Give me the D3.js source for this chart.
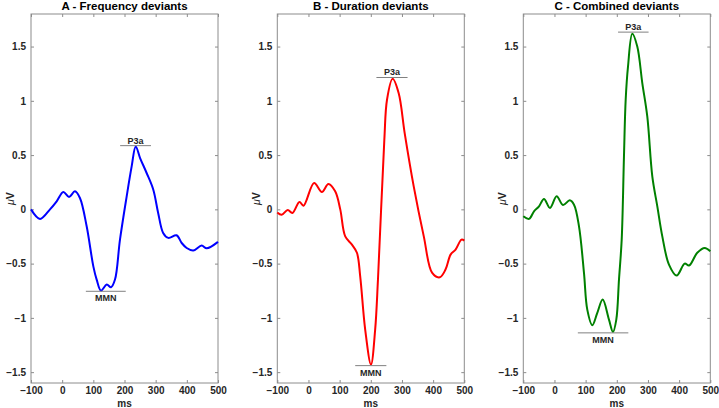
<!DOCTYPE html>
<html><head><meta charset="utf-8">
<script src="https://cdn.jsdelivr.net/npm/d3@7"></script>
<style>
body{margin:0;background:#fff;}
svg text{font-family:"Liberation Sans",Arial,sans-serif;}
</style></head>
<body><svg id="c" width="719" height="408"></svg>
<script>
const titles = ["A - Frequency deviants", "B - Duration deviants", "C - Combined deviants"];
const colors = ["#0000ff", "#ff0000", "#008000"];
const xTicks = [-100, 0, 100, 200, 300, 400, 500];
const yTicks = [-1.5, -1, -0.5, 0, 0.5, 1, 1.5];

const timesA = [-100,-71,-39,-17.6,3.7,22,41,57,78.6,100,110.7,124.6,143,156.7,169.5,185.5,207,223,236,250,271,292.4,308,324,340.5,367,383.5,399.5,420.7,447.6,463.7,500];
const valuesA = [0,-0.088,0,0.074,0.16,0.114,0.166,0.105,-0.156,-0.525,-0.647,-0.749,-0.693,-0.718,-0.647,-0.279,0.12,0.396,0.58,0.473,0.335,0.181,-0.033,-0.217,-0.263,-0.239,-0.31,-0.356,-0.38,-0.334,-0.359,-0.30];

const timesB = [-100,-86,-66.5,-51.7,-29,-16,18,43,64,85.7,102,118,139.5,155.5,166,182,200.6,214,223,243.4,252,270,289.5,308.7,337.7,370,397,421.4,439.7,456,472,491,500];
const valuesB = [-0.028,-0.049,-0.006,-0.033,0.068,0.034,0.243,0.16,0.234,0.166,0,-0.249,-0.325,-0.40,-0.617,-1.108,-1.43,-1.108,-0.647,0.64,1.01,1.203,1.07,0.703,0.212,-0.249,-0.586,-0.626,-0.555,-0.417,-0.371,-0.279,-0.288];

const timesC = [-100,-81.7,-65.7,-49.6,-33.6,-14.3,7,27.4,49,62.7,78.7,94.7,105.3,121.4,137.4,154.7,174.9,187.8,198.4,207,215.7,223,228.5,236,249.7,265.7,281.8,297.8,313.9,330,346,367.4,392.1,417.8,431.8,458.2,482,500];
const valuesC = [-0.064,-0.088,-0.018,0.028,0.096,0.013,0.12,0.04,0.083,0.043,-0.157,-0.586,-0.924,-1.068,-0.954,-0.831,-1.016,-1.129,-1.016,-0.647,-0.279,0.488,1.01,1.317,1.618,1.50,1.164,0.856,0.304,0.028,-0.249,-0.509,-0.61,-0.50,-0.518,-0.40,-0.356,-0.386];

// annotation bars: [startMs, endMs, value]
const p3aBars = [[186, 285, 0.587], [218, 318, 1.215], [204, 302, 1.633]];
const mmnBars = [[76, 204, -0.755], [150, 250, -1.44], [75, 237, -1.138]];

const series = [
  {t: timesA, v: valuesA},
  {t: timesB, v: valuesB},
  {t: timesC, v: valuesC}
];

const svg = d3.select("#c");
const lefts = [31, 277.3, 523.3];
const pw = 187, plotTop = 14, plotBottom = 383;
const frameColor = "#8c8c8c";
const textColor = "#262626";

series.forEach((s, i) => {
  const x = d3.scaleLinear().domain([-100, 500]).range([lefts[i], lefts[i] + pw]);
  const y = d3.scaleLinear().domain([-1.6, 1.8]).range([plotBottom, plotTop]);
  const g = svg.append("g");

  g.append("rect").attr("x", x(-100)).attr("y", plotTop).attr("width", pw).attr("height", plotBottom - plotTop)
    .attr("fill", "none").attr("stroke", frameColor).attr("stroke-width", 1);

  const axB = d3.axisBottom(x).tickValues(xTicks).tickSize(-3).tickPadding(4).tickFormat(d3.format("d"));
  const axT = d3.axisTop(x).tickValues(xTicks).tickSize(-3).tickFormat("");
  const axL = d3.axisLeft(y).tickValues(yTicks).tickSize(-3).tickPadding(5).tickFormat(d => d3.format("")(d));
  const axR = d3.axisRight(y).tickValues(yTicks).tickSize(-3).tickFormat("");
  [[axB, `translate(0,${plotBottom})`], [axT, `translate(0,${plotTop})`], [axL, `translate(${x(-100)},0)`], [axR, `translate(${x(500)},0)`]]
    .forEach(([ax, tr]) => {
      const a = g.append("g").attr("transform", tr).call(ax);
      a.select(".domain").remove();
      a.selectAll(".tick line").attr("stroke", frameColor);
      a.selectAll(".tick text").attr("fill", textColor).attr("font-size", 10).attr("font-weight", "bold")
        .attr("font-family", "Liberation Sans, Arial, sans-serif");
    });

  g.append("text").attr("x", lefts[i] + pw / 2).attr("y", 9.5).attr("text-anchor", "middle")
    .attr("font-size", 11.5).attr("font-weight", "bold").attr("fill", "#000").text(titles[i]);

  g.append("text").attr("x", lefts[i] + pw / 2).attr("y", 406.5).attr("text-anchor", "middle")
    .attr("font-size", 10).attr("font-weight", "bold").attr("fill", textColor).text("ms");

  const yl = g.append("text").attr("transform", `translate(${lefts[i] - 17.5},${(plotTop + plotBottom) / 2}) rotate(-90)`)
    .attr("text-anchor", "middle").attr("font-size", 10.5).attr("font-weight", "bold").attr("fill", textColor);
  yl.append("tspan").attr("font-style", "italic").attr("font-weight", "normal").text("\u03bc");
  yl.append("tspan").text("V");

  const data = s.t.map((t, k) => [t, s.v[k]]);
  g.append("path").datum(data)
    .attr("d", d3.line().x(d => x(d[0])).y(d => y(d[1])).curve(d3.curveCatmullRom.alpha(0.5)))
    .attr("fill", "none").attr("stroke", colors[i]).attr("stroke-width", 2);

  const p = p3aBars[i], m = mmnBars[i];
  g.append("line").attr("x1", x(p[0])).attr("x2", x(p[1])).attr("y1", y(p[2])).attr("y2", y(p[2]))
    .attr("stroke", "#808080").attr("stroke-width", 1);
  g.append("text").attr("x", x((p[0] + p[1]) / 2)).attr("y", y(p[2]) - 2).attr("text-anchor", "middle")
    .attr("font-size", 9).attr("font-weight", "bold").attr("fill", textColor).text("P3a");
  g.append("line").attr("x1", x(m[0])).attr("x2", x(m[1])).attr("y1", y(m[2])).attr("y2", y(m[2]))
    .attr("stroke", "#808080").attr("stroke-width", 1);
  g.append("text").attr("x", x((m[0] + m[1]) / 2)).attr("y", y(m[2]) + 10).attr("text-anchor", "middle")
    .attr("font-size", 9).attr("font-weight", "bold").attr("fill", textColor).text("MMN");
});
</script></body></html>
